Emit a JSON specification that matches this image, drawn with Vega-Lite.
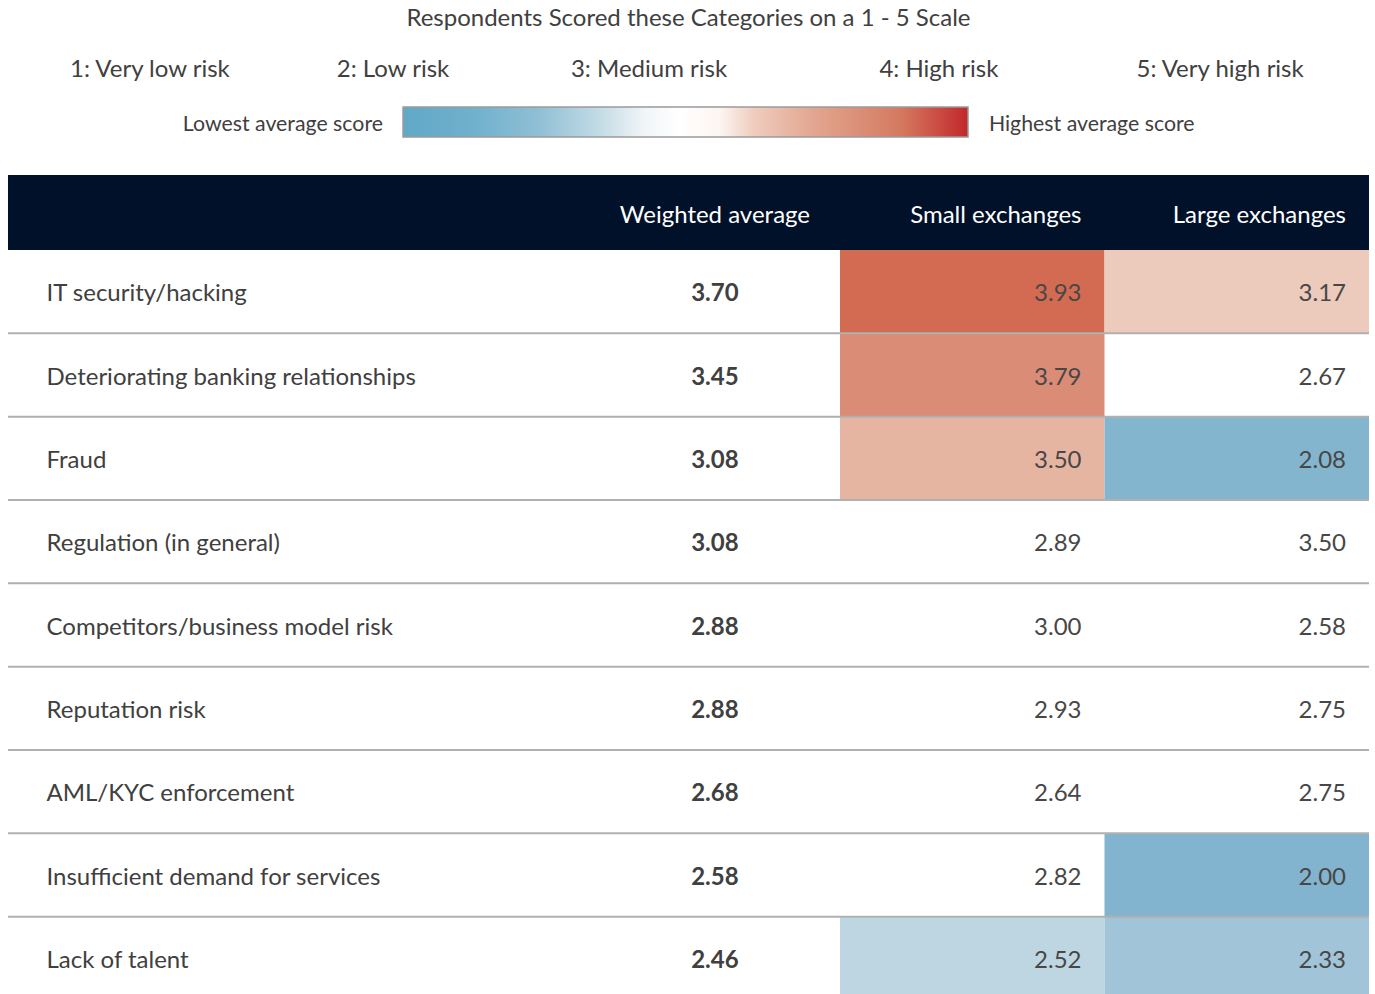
{
  "$schema": "https://vega.github.io/schema/vega-lite/v6.json",
  "width": 1375,
  "height": 994,
  "autosize": {"type": "fit", "contains": "padding"},
  "padding": 0,
  "background": "white",
  "config": {"view": {"stroke": null}, "axis": {"disable": true}, "text": {"font": "Lato", "dy": 1}},
  "datasets": {
    "scores": [
      {"row": 1, "category": "IT security/hacking", "group": "Weighted average", "score": 3.70, "shaded": false},
      {"row": 1, "category": "IT security/hacking", "group": "Small exchanges", "score": 3.93, "shaded": true},
      {"row": 1, "category": "IT security/hacking", "group": "Large exchanges", "score": 3.17, "shaded": true},
      {"row": 2, "category": "Deteriorating banking relationships", "group": "Weighted average", "score": 3.45, "shaded": false},
      {"row": 2, "category": "Deteriorating banking relationships", "group": "Small exchanges", "score": 3.79, "shaded": true},
      {"row": 2, "category": "Deteriorating banking relationships", "group": "Large exchanges", "score": 2.67, "shaded": false},
      {"row": 3, "category": "Fraud", "group": "Weighted average", "score": 3.08, "shaded": false},
      {"row": 3, "category": "Fraud", "group": "Small exchanges", "score": 3.50, "shaded": true},
      {"row": 3, "category": "Fraud", "group": "Large exchanges", "score": 2.08, "shaded": true},
      {"row": 4, "category": "Regulation (in general)", "group": "Weighted average", "score": 3.08, "shaded": false},
      {"row": 4, "category": "Regulation (in general)", "group": "Small exchanges", "score": 2.89, "shaded": false},
      {"row": 4, "category": "Regulation (in general)", "group": "Large exchanges", "score": 3.50, "shaded": false},
      {"row": 5, "category": "Competitors/business model risk", "group": "Weighted average", "score": 2.88, "shaded": false},
      {"row": 5, "category": "Competitors/business model risk", "group": "Small exchanges", "score": 3.00, "shaded": false},
      {"row": 5, "category": "Competitors/business model risk", "group": "Large exchanges", "score": 2.58, "shaded": false},
      {"row": 6, "category": "Reputation risk", "group": "Weighted average", "score": 2.88, "shaded": false},
      {"row": 6, "category": "Reputation risk", "group": "Small exchanges", "score": 2.93, "shaded": false},
      {"row": 6, "category": "Reputation risk", "group": "Large exchanges", "score": 2.75, "shaded": false},
      {"row": 7, "category": "AML/KYC enforcement", "group": "Weighted average", "score": 2.68, "shaded": false},
      {"row": 7, "category": "AML/KYC enforcement", "group": "Small exchanges", "score": 2.64, "shaded": false},
      {"row": 7, "category": "AML/KYC enforcement", "group": "Large exchanges", "score": 2.75, "shaded": false},
      {"row": 8, "category": "Insufficient demand for services", "group": "Weighted average", "score": 2.58, "shaded": false},
      {"row": 8, "category": "Insufficient demand for services", "group": "Small exchanges", "score": 2.82, "shaded": false},
      {"row": 8, "category": "Insufficient demand for services", "group": "Large exchanges", "score": 2.00, "shaded": true},
      {"row": 9, "category": "Lack of talent", "group": "Weighted average", "score": 2.46, "shaded": false},
      {"row": 9, "category": "Lack of talent", "group": "Small exchanges", "score": 2.52, "shaded": true},
      {"row": 9, "category": "Lack of talent", "group": "Large exchanges", "score": 2.33, "shaded": true}
    ]
  },
  "data": {"name": "scores"},
  "layer": [
    {
      "data": {"values": [{}]},
      "mark": {"type": "rect", "color": "#001129"},
      "encoding": {
        "x": {"datum": -0.1456, "type": "quantitative", "scale": {"domain": [-0.1758, 5.0227], "nice": false, "zero": false}},
        "x2": {"datum": 5.0},
        "y": {"datum": -0.9, "type": "quantitative", "scale": {"domain": [-3.0, 8.928], "nice": false, "zero": false, "reverse": true}},
        "y2": {"datum": 0}
      }
    },
    {
      "transform": [
        {"filter": "datum.shaded"},
        {"calculate": "datum.group === 'Small exchanges' ? 3 : 4", "as": "c0"},
        {"calculate": "datum.c0 + 1", "as": "c1"},
        {"calculate": "datum.row - 1", "as": "r0"}
      ],
      "mark": {"type": "rect", "clip": true},
      "encoding": {
        "x": {"field": "c0", "type": "quantitative", "scale": {"domain": [-0.1758, 5.0227], "nice": false, "zero": false}},
        "x2": {"field": "c1"},
        "y": {"field": "r0", "type": "quantitative", "scale": {"domain": [-3.0, 8.928], "nice": false, "zero": false, "reverse": true}},
        "y2": {"field": "row"},
        "color": {
          "field": "score", "type": "quantitative", "legend": null,
          "scale": {
            "domain": [2.0, 2.08, 2.33, 2.52, 3.17, 3.5, 3.79, 3.93],
            "range": ["#83b4cf", "#84b5cf", "#a1c4d8", "#bed6e2", "#eccabc", "#e5b5a1", "#da8c76", "#d36b52"]
          }
        }
      }
    },
    {
      "transform": [{"filter": "datum.group === 'Weighted average' && datum.row < 9"}],
      "mark": {"type": "rule", "color": "#b0b0b0", "strokeWidth": 2},
      "encoding": {
        "x": {"datum": -0.1456, "type": "quantitative", "scale": {"domain": [-0.1758, 5.0227], "nice": false, "zero": false}},
        "x2": {"datum": 5.0},
        "y": {"field": "row", "type": "quantitative", "scale": {"domain": [-3.0, 8.928], "nice": false, "zero": false, "reverse": true}}
      }
    },
    {
      "transform": [{"filter": "datum.group === 'Weighted average'"}, {"calculate": "datum.row - 0.5", "as": "ym"}],
      "mark": {"type": "text", "align": "left", "baseline": "middle", "fontSize": 24, "color": "#404040", "dy": 2.5},
      "encoding": {
        "x": {"datum": 0, "type": "quantitative", "scale": {"domain": [-0.1758, 5.0227], "nice": false, "zero": false}},
        "y": {"field": "ym", "type": "quantitative", "scale": {"domain": [-3.0, 8.928], "nice": false, "zero": false, "reverse": true}},
        "text": {"field": "category"}
      }
    },
    {
      "transform": [{"filter": "datum.group === 'Weighted average'"}, {"calculate": "datum.row - 0.5", "as": "ym"}],
      "mark": {"type": "text", "align": "center", "baseline": "middle", "fontSize": 24, "fontWeight": "bold", "color": "#404040", "dy": 2.5},
      "encoding": {
        "x": {"datum": 2.527, "type": "quantitative", "scale": {"domain": [-0.1758, 5.0227], "nice": false, "zero": false}},
        "y": {"field": "ym", "type": "quantitative", "scale": {"domain": [-3.0, 8.928], "nice": false, "zero": false, "reverse": true}},
        "text": {"field": "score", "format": ".2f"}
      }
    },
    {
      "transform": [
        {"filter": "datum.group !== 'Weighted average'"},
        {"calculate": "datum.group === 'Small exchanges' ? 4 : 5", "as": "c1"},
        {"calculate": "datum.row - 0.5", "as": "ym"}
      ],
      "mark": {"type": "text", "align": "right", "baseline": "middle", "fontSize": 24, "color": "#474747", "dx": -23, "dy": 2.5},
      "encoding": {
        "x": {"field": "c1", "type": "quantitative", "scale": {"domain": [-0.1758, 5.0227], "nice": false, "zero": false}},
        "y": {"field": "ym", "type": "quantitative", "scale": {"domain": [-3.0, 8.928], "nice": false, "zero": false, "reverse": true}},
        "text": {"field": "score", "format": ".2f"}
      }
    },
    {
      "data": {"values": [{}]},
      "mark": {"type": "text", "align": "center", "baseline": "middle", "fontSize": 24, "color": "white", "text": "Weighted average"},
      "encoding": {
        "x": {"datum": 2.527, "type": "quantitative", "scale": {"domain": [-0.1758, 5.0227], "nice": false, "zero": false}},
        "y": {"datum": -0.42, "type": "quantitative", "scale": {"domain": [-3.0, 8.928], "nice": false, "zero": false, "reverse": true}}
      }
    },
    {
      "data": {"values": [{}]},
      "mark": {"type": "text", "align": "right", "baseline": "middle", "fontSize": 24, "color": "white", "dx": -23, "text": "Small exchanges"},
      "encoding": {
        "x": {"datum": 4, "type": "quantitative", "scale": {"domain": [-0.1758, 5.0227], "nice": false, "zero": false}},
        "y": {"datum": -0.42, "type": "quantitative", "scale": {"domain": [-3.0, 8.928], "nice": false, "zero": false, "reverse": true}}
      }
    },
    {
      "data": {"values": [{}]},
      "mark": {"type": "text", "align": "right", "baseline": "middle", "fontSize": 24, "color": "white", "dx": -23, "text": "Large exchanges"},
      "encoding": {
        "x": {"datum": 5, "type": "quantitative", "scale": {"domain": [-0.1758, 5.0227], "nice": false, "zero": false}},
        "y": {"datum": -0.42, "type": "quantitative", "scale": {"domain": [-3.0, 8.928], "nice": false, "zero": false, "reverse": true}}
      }
    },
    {
      "data": {"values": [{}]},
      "mark": {"type": "text", "align": "center", "baseline": "middle", "fontSize": 24, "color": "#404040", "text": "Respondents Scored these Categories on a 1 - 5 Scale"},
      "encoding": {
        "x": {"datum": 2.427, "type": "quantitative", "scale": {"domain": [-0.1758, 5.0227], "nice": false, "zero": false}},
        "y": {"datum": -2.784, "type": "quantitative", "scale": {"domain": [-3.0, 8.928], "nice": false, "zero": false, "reverse": true}}
      }
    },
    {
      "data": {"values": [{}]},
      "mark": {"type": "text", "align": "center", "baseline": "middle", "fontSize": 24, "color": "#404040", "text": "1: Very low risk"},
      "encoding": {
        "x": {"datum": 0.391, "type": "quantitative", "scale": {"domain": [-0.1758, 5.0227], "nice": false, "zero": false}},
        "y": {"datum": -2.172, "type": "quantitative", "scale": {"domain": [-3.0, 8.928], "nice": false, "zero": false, "reverse": true}}
      }
    },
    {
      "data": {"values": [{}]},
      "mark": {"type": "text", "align": "center", "baseline": "middle", "fontSize": 24, "color": "#404040", "text": "2: Low risk"},
      "encoding": {
        "x": {"datum": 1.310, "type": "quantitative", "scale": {"domain": [-0.1758, 5.0227], "nice": false, "zero": false}},
        "y": {"datum": -2.172, "type": "quantitative", "scale": {"domain": [-3.0, 8.928], "nice": false, "zero": false, "reverse": true}}
      }
    },
    {
      "data": {"values": [{}]},
      "mark": {"type": "text", "align": "center", "baseline": "middle", "fontSize": 24, "color": "#404040", "text": "3: Medium risk"},
      "encoding": {
        "x": {"datum": 2.278, "type": "quantitative", "scale": {"domain": [-0.1758, 5.0227], "nice": false, "zero": false}},
        "y": {"datum": -2.172, "type": "quantitative", "scale": {"domain": [-3.0, 8.928], "nice": false, "zero": false, "reverse": true}}
      }
    },
    {
      "data": {"values": [{}]},
      "mark": {"type": "text", "align": "center", "baseline": "middle", "fontSize": 24, "color": "#404040", "text": "4: High risk"},
      "encoding": {
        "x": {"datum": 3.374, "type": "quantitative", "scale": {"domain": [-0.1758, 5.0227], "nice": false, "zero": false}},
        "y": {"datum": -2.172, "type": "quantitative", "scale": {"domain": [-3.0, 8.928], "nice": false, "zero": false, "reverse": true}}
      }
    },
    {
      "data": {"values": [{}]},
      "mark": {"type": "text", "align": "center", "baseline": "middle", "fontSize": 24, "color": "#404040", "text": "5: Very high risk"},
      "encoding": {
        "x": {"datum": 4.437, "type": "quantitative", "scale": {"domain": [-0.1758, 5.0227], "nice": false, "zero": false}},
        "y": {"datum": -2.172, "type": "quantitative", "scale": {"domain": [-3.0, 8.928], "nice": false, "zero": false, "reverse": true}}
      }
    },
    {
      "data": {"values": [{}]},
      "mark": {
        "type": "rect",
        "fill": {
          "gradient": "linear", "x1": 0, "x2": 1, "y1": 0, "y2": 0,
          "stops": [
            {"offset": 0, "color": "#61a8c7"},
            {"offset": 0.12, "color": "#6fb0cc"},
            {"offset": 0.24, "color": "#90bfd5"},
            {"offset": 0.35, "color": "#c4dce6"},
            {"offset": 0.43, "color": "#f2f6f8"},
            {"offset": 0.49, "color": "#ffffff"},
            {"offset": 0.56, "color": "#fdf6f2"},
            {"offset": 0.62, "color": "#efcdbf"},
            {"offset": 0.72, "color": "#e3a892"},
            {"offset": 0.88, "color": "#d47a60"},
            {"offset": 1, "color": "#c2282a"}
          ]
        },
        "stroke": "#9a9a9a",
        "strokeWidth": 1.5
      },
      "encoding": {
        "x": {"datum": 1.348, "type": "quantitative", "scale": {"domain": [-0.1758, 5.0227], "nice": false, "zero": false}},
        "x2": {"datum": 3.484},
        "y": {"datum": -1.716, "type": "quantitative", "scale": {"domain": [-3.0, 8.928], "nice": false, "zero": false, "reverse": true}},
        "y2": {"datum": -1.356}
      }
    },
    {
      "data": {"values": [{}]},
      "mark": {"type": "text", "align": "right", "baseline": "middle", "fontSize": 21.3, "color": "#404040", "text": "Lowest average score"},
      "encoding": {
        "x": {"datum": 1.272, "type": "quantitative", "scale": {"domain": [-0.1758, 5.0227], "nice": false, "zero": false}},
        "y": {"datum": -1.512, "type": "quantitative", "scale": {"domain": [-3.0, 8.928], "nice": false, "zero": false, "reverse": true}}
      }
    },
    {
      "data": {"values": [{}]},
      "mark": {"type": "text", "align": "left", "baseline": "middle", "fontSize": 21.3, "color": "#404040", "text": "Highest average score"},
      "encoding": {
        "x": {"datum": 3.563, "type": "quantitative", "scale": {"domain": [-0.1758, 5.0227], "nice": false, "zero": false}},
        "y": {"datum": -1.512, "type": "quantitative", "scale": {"domain": [-3.0, 8.928], "nice": false, "zero": false, "reverse": true}}
      }
    }
  ]
}
